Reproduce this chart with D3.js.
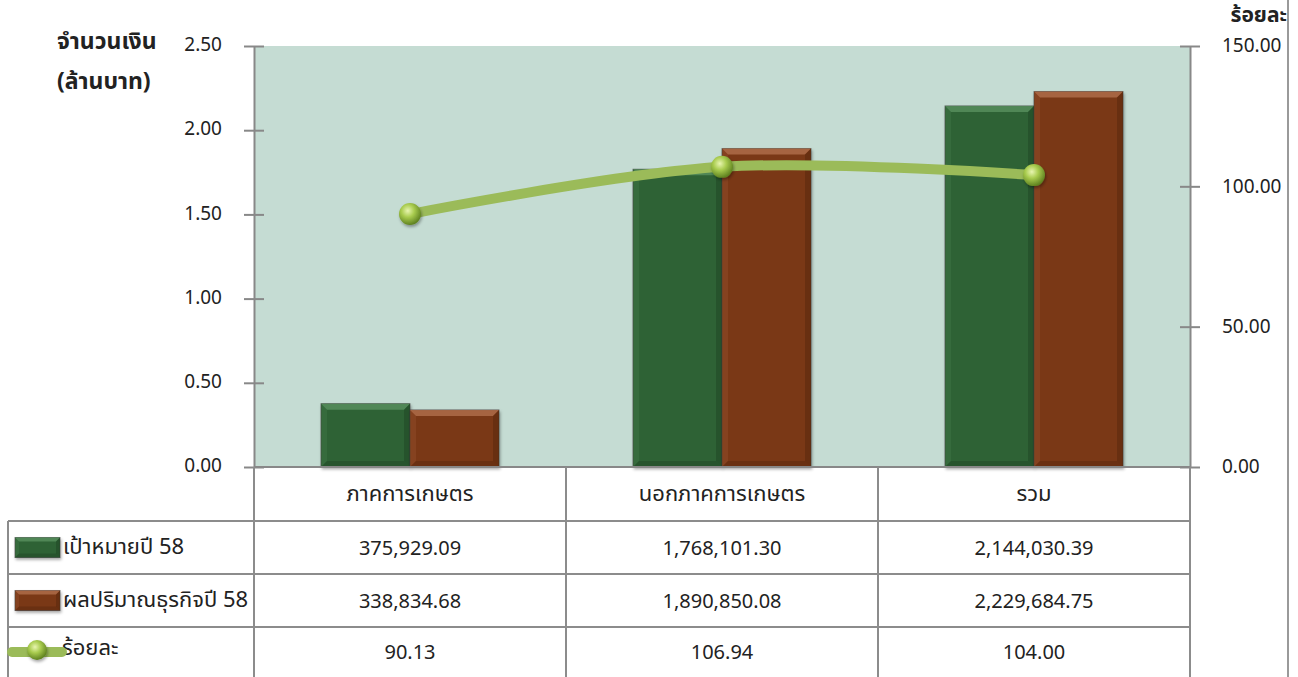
<!DOCTYPE html>
<html>
<head>
<meta charset="utf-8">
<script src="https://cdnjs.cloudflare.com/ajax/libs/d3/7.8.5/d3.min.js"></script>
<style>
  body { margin: 0; background: #fff; }
  svg text { font-family: "Noto Sans Thai", "Noto Sans", "DejaVu Sans", sans-serif; fill: #222; }
</style>
</head>
<body>
<div id="chart"></div>
<script>
const categories = ["ภาคการเกษตร", "นอกภาคการเกษตร", "รวม"];
const seriesNames = ["เป้าหมายปี 58", "ผลปริมาณธุรกิจปี 58"];
const targetValues = [375929.09, 1768101.30, 2144030.39];
const actualValues = [338834.68, 1890850.08, 2229684.75];
const percentValues = [90.13, 106.94, 104.00];
const percentName = "ร้อยละ";
const leftTicks = [0, 0.5, 1.0, 1.5, 2.0, 2.5];
const rightTicks = [0, 50, 100, 150];

const W = 1298, H = 677;
const plot = {left: 254, right: 1190, top: 46, bottom: 467};
const rowLines = [467, 521, 574, 627, 677];
const tableLeft = 8;
const numFont = "'Noto Sans', 'DejaVu Sans', sans-serif";

const colors = [
  {base: "#2d6234", light: "#5c9462", dark: "#1d4222"},
  {base: "#7a3915", light: "#b57350", dark: "#52250c"}
];
const lineColor = "#9bbb59";

const svg = d3.select("#chart").append("svg").attr("width", W).attr("height", H);
const defs = svg.append("defs");

const sphere = defs.append("radialGradient").attr("id", "sphere")
  .attr("cx", "40%").attr("cy", "35%").attr("r", "65%");
sphere.append("stop").attr("offset", "0%").attr("stop-color", "#e8f5b0");
sphere.append("stop").attr("offset", "45%").attr("stop-color", "#a9cc4f");
sphere.append("stop").attr("offset", "100%").attr("stop-color", "#5f8220");

const shadow = defs.append("filter").attr("id", "shadow").attr("x", "-20%").attr("y", "-20%").attr("width", "150%").attr("height", "150%");
shadow.append("feDropShadow").attr("dx", 1).attr("dy", 2).attr("stdDeviation", 1.5).attr("flood-color", "#000").attr("flood-opacity", 0.35);

// Scales
const x = d3.scaleBand().domain(categories).range([plot.left, plot.right]).padding(0);
const yL = d3.scaleLinear().domain([0, 2.5]).range([plot.bottom, plot.top]);
const yR = d3.scaleLinear().domain([0, 150]).range([plot.bottom, plot.top]);
const barW = 89;
const inner = d3.scaleBand().domain([0, 1]).range([-barW, barW]).padding(0);

// Plot background
svg.append("rect")
  .attr("x", plot.left).attr("y", plot.top)
  .attr("width", plot.right - plot.left).attr("height", plot.bottom - plot.top)
  .attr("fill", "#c5dcd3");

// Left axis
const axL = svg.append("g").attr("transform", `translate(${plot.left},0)`)
  .call(d3.axisLeft(yL).tickValues(leftTicks).tickFormat(d3.format(".2f")).tickSize(10).tickSizeOuter(0).tickPadding(32));
axL.select(".domain").attr("stroke", "#888").attr("stroke-width", 2);
axL.selectAll(".tick line").attr("stroke", "#888").attr("stroke-width", 2).attr("x2", 10).attr("x1", -10);
axL.selectAll(".tick text").attr("font-size", 19).attr("fill", "#222").attr("x", -32).attr("dy", "0.25em").style("font-family", numFont);

// Right axis
const axR = svg.append("g").attr("transform", `translate(${plot.right},0)`)
  .call(d3.axisRight(yR).tickValues(rightTicks).tickFormat(d3.format(".2f")).tickSize(10).tickSizeOuter(0).tickPadding(32));
axR.select(".domain").attr("stroke", "#888").attr("stroke-width", 2);
axR.selectAll(".tick line").attr("stroke", "#888").attr("stroke-width", 2).attr("x1", -10).attr("x2", 10);
axR.selectAll(".tick text").attr("font-size", 19).attr("fill", "#222").attr("x", 32).attr("dy", "0.3em").style("font-family", numFont);

// Axis titles
svg.append("text").attr("x", 57).attr("y", 49).attr("font-size", 23).attr("font-weight", "bold").text("จำนวนเงิน");
svg.append("text").attr("x", 57).attr("y", 89).attr("font-size", 23).attr("font-weight", "bold").text("(ล้านบาท)");
svg.append("text").attr("x", 1287).attr("y", 22).attr("text-anchor", "end").attr("font-size", 21).attr("font-weight", "bold").text(percentName);

// Bevelled bar
function bevelBar(g, x0, y0, w, h, c, b) {
  g.append("rect").attr("x", x0).attr("y", y0).attr("width", w).attr("height", h)
    .attr("fill", c.base).attr("stroke", "#3b3b3b").attr("stroke-opacity", 0.6).attr("stroke-width", 1)
    .attr("filter", "url(#shadow)");
  const bb = Math.min(b, h / 2);
  const pts = (arr) => arr.map(p => p.join(",")).join(" ");
  g.append("polygon").attr("points", pts([[x0, y0], [x0 + w, y0], [x0 + w - bb, y0 + bb], [x0 + bb, y0 + bb]])).attr("fill", c.light).attr("opacity", 0.75);
  g.append("polygon").attr("points", pts([[x0, y0], [x0 + bb, y0 + bb], [x0 + bb, y0 + h - bb], [x0, y0 + h]])).attr("fill", c.light).attr("opacity", 0.18);
  g.append("polygon").attr("points", pts([[x0 + w, y0], [x0 + w, y0 + h], [x0 + w - bb, y0 + h - bb], [x0 + w - bb, y0 + bb]])).attr("fill", c.dark).attr("opacity", 0.45);
  g.append("polygon").attr("points", pts([[x0, y0 + h], [x0 + bb, y0 + h - bb], [x0 + w - bb, y0 + h - bb], [x0 + w, y0 + h]])).attr("fill", c.dark).attr("opacity", 0.4);
}

// Bars
const barsG = svg.append("g");
[targetValues, actualValues].forEach((vals, si) => {
  vals.forEach((v, i) => {
    const cx = x(categories[i]) + x.bandwidth() / 2;
    const x0 = cx + inner(si);
    const y0 = yL(v / 1e6);
    bevelBar(barsG, x0, y0, inner.bandwidth(), plot.bottom - y0, colors[si], 6);
  });
});

// Baseline
svg.append("line").attr("x1", plot.left).attr("x2", plot.right).attr("y1", plot.bottom).attr("y2", plot.bottom)
  .attr("stroke", "#888").attr("stroke-width", 2);

// Percent line
const lineGen = d3.line()
  .x((d, i) => x(categories[i]) + x.bandwidth() / 2)
  .y(d => yR(d))
  .curve(d3.curveCatmullRom.alpha(0.5));
svg.append("path").datum(percentValues).attr("d", lineGen)
  .attr("fill", "none").attr("stroke", lineColor).attr("stroke-width", 10).attr("stroke-linecap", "butt");
svg.append("g").selectAll("circle").data(percentValues).enter().append("circle")
  .attr("cx", (d, i) => x(categories[i]) + x.bandwidth() / 2)
  .attr("cy", d => yR(d))
  .attr("r", 11)
  .attr("fill", "url(#sphere)")
  .attr("filter", "url(#shadow)");

// Data table
const grid = svg.append("g").attr("stroke", "#8c8c8c").attr("stroke-width", 2);
rowLines.slice(1, 4).forEach(y => {
  grid.append("line").attr("x1", tableLeft).attr("x2", plot.right).attr("y1", y).attr("y2", y);
});
categories.concat([null]).forEach((c, i) => {
  const xx = i < categories.length ? x(c) : plot.right;
  grid.append("line").attr("x1", xx).attr("x2", xx).attr("y1", plot.bottom).attr("y2", H);
});
grid.append("line").attr("x1", tableLeft).attr("x2", tableLeft).attr("y1", rowLines[1]).attr("y2", H);
svg.append("line").attr("x1", 1288).attr("x2", 1288).attr("y1", 0).attr("y2", H)
  .attr("stroke", "#9a9a9a").attr("stroke-width", 2);

// Category labels
svg.append("g").selectAll("text").data(categories).enter().append("text")
  .attr("x", d => x(d) + x.bandwidth() / 2)
  .attr("y", (rowLines[0] + rowLines[1]) / 2)
  .attr("dy", "0.3em").attr("text-anchor", "middle").attr("font-size", 22)
  .text(d => d);

// Table rows
const fmt = d3.format(",.2f");
const rows = [
  {name: seriesNames[0], vals: targetValues.map(fmt)},
  {name: seriesNames[1], vals: actualValues.map(fmt)},
  {name: percentName, vals: percentValues.map(d3.format(".2f"))}
];
rows.forEach((r, ri) => {
  const cy = (rowLines[ri + 1] + rowLines[ri + 2]) / 2;
  r.vals.forEach((v, i) => {
    svg.append("text").attr("x", x(categories[i]) + x.bandwidth() / 2).attr("y", cy)
      .attr("dy", "0.35em").attr("text-anchor", "middle").attr("font-size", 20)
      .style("font-family", numFont).text(v);
  });
  svg.append("text").attr("x", ri < 2 ? 63 : 62).attr("y", ri < 2 ? cy - 1 : cy - 5).attr("dy", "0.35em")
    .attr("font-size", 22).text(r.name);
  const lg = svg.append("g");
  if (ri < 2) {
    bevelBar(lg, 15, cy - 10, 45, 20, colors[ri], 4);
  } else {
    lg.append("line").attr("x1", 12).attr("x2", 62).attr("y1", cy).attr("y2", cy)
      .attr("stroke", lineColor).attr("stroke-width", 10).attr("stroke-linecap", "round");
    lg.append("circle").attr("cx", 37).attr("cy", cy - 2).attr("r", 10).attr("fill", "url(#sphere)").attr("filter", "url(#shadow)");
  }
});
</script>
</body>
</html>
